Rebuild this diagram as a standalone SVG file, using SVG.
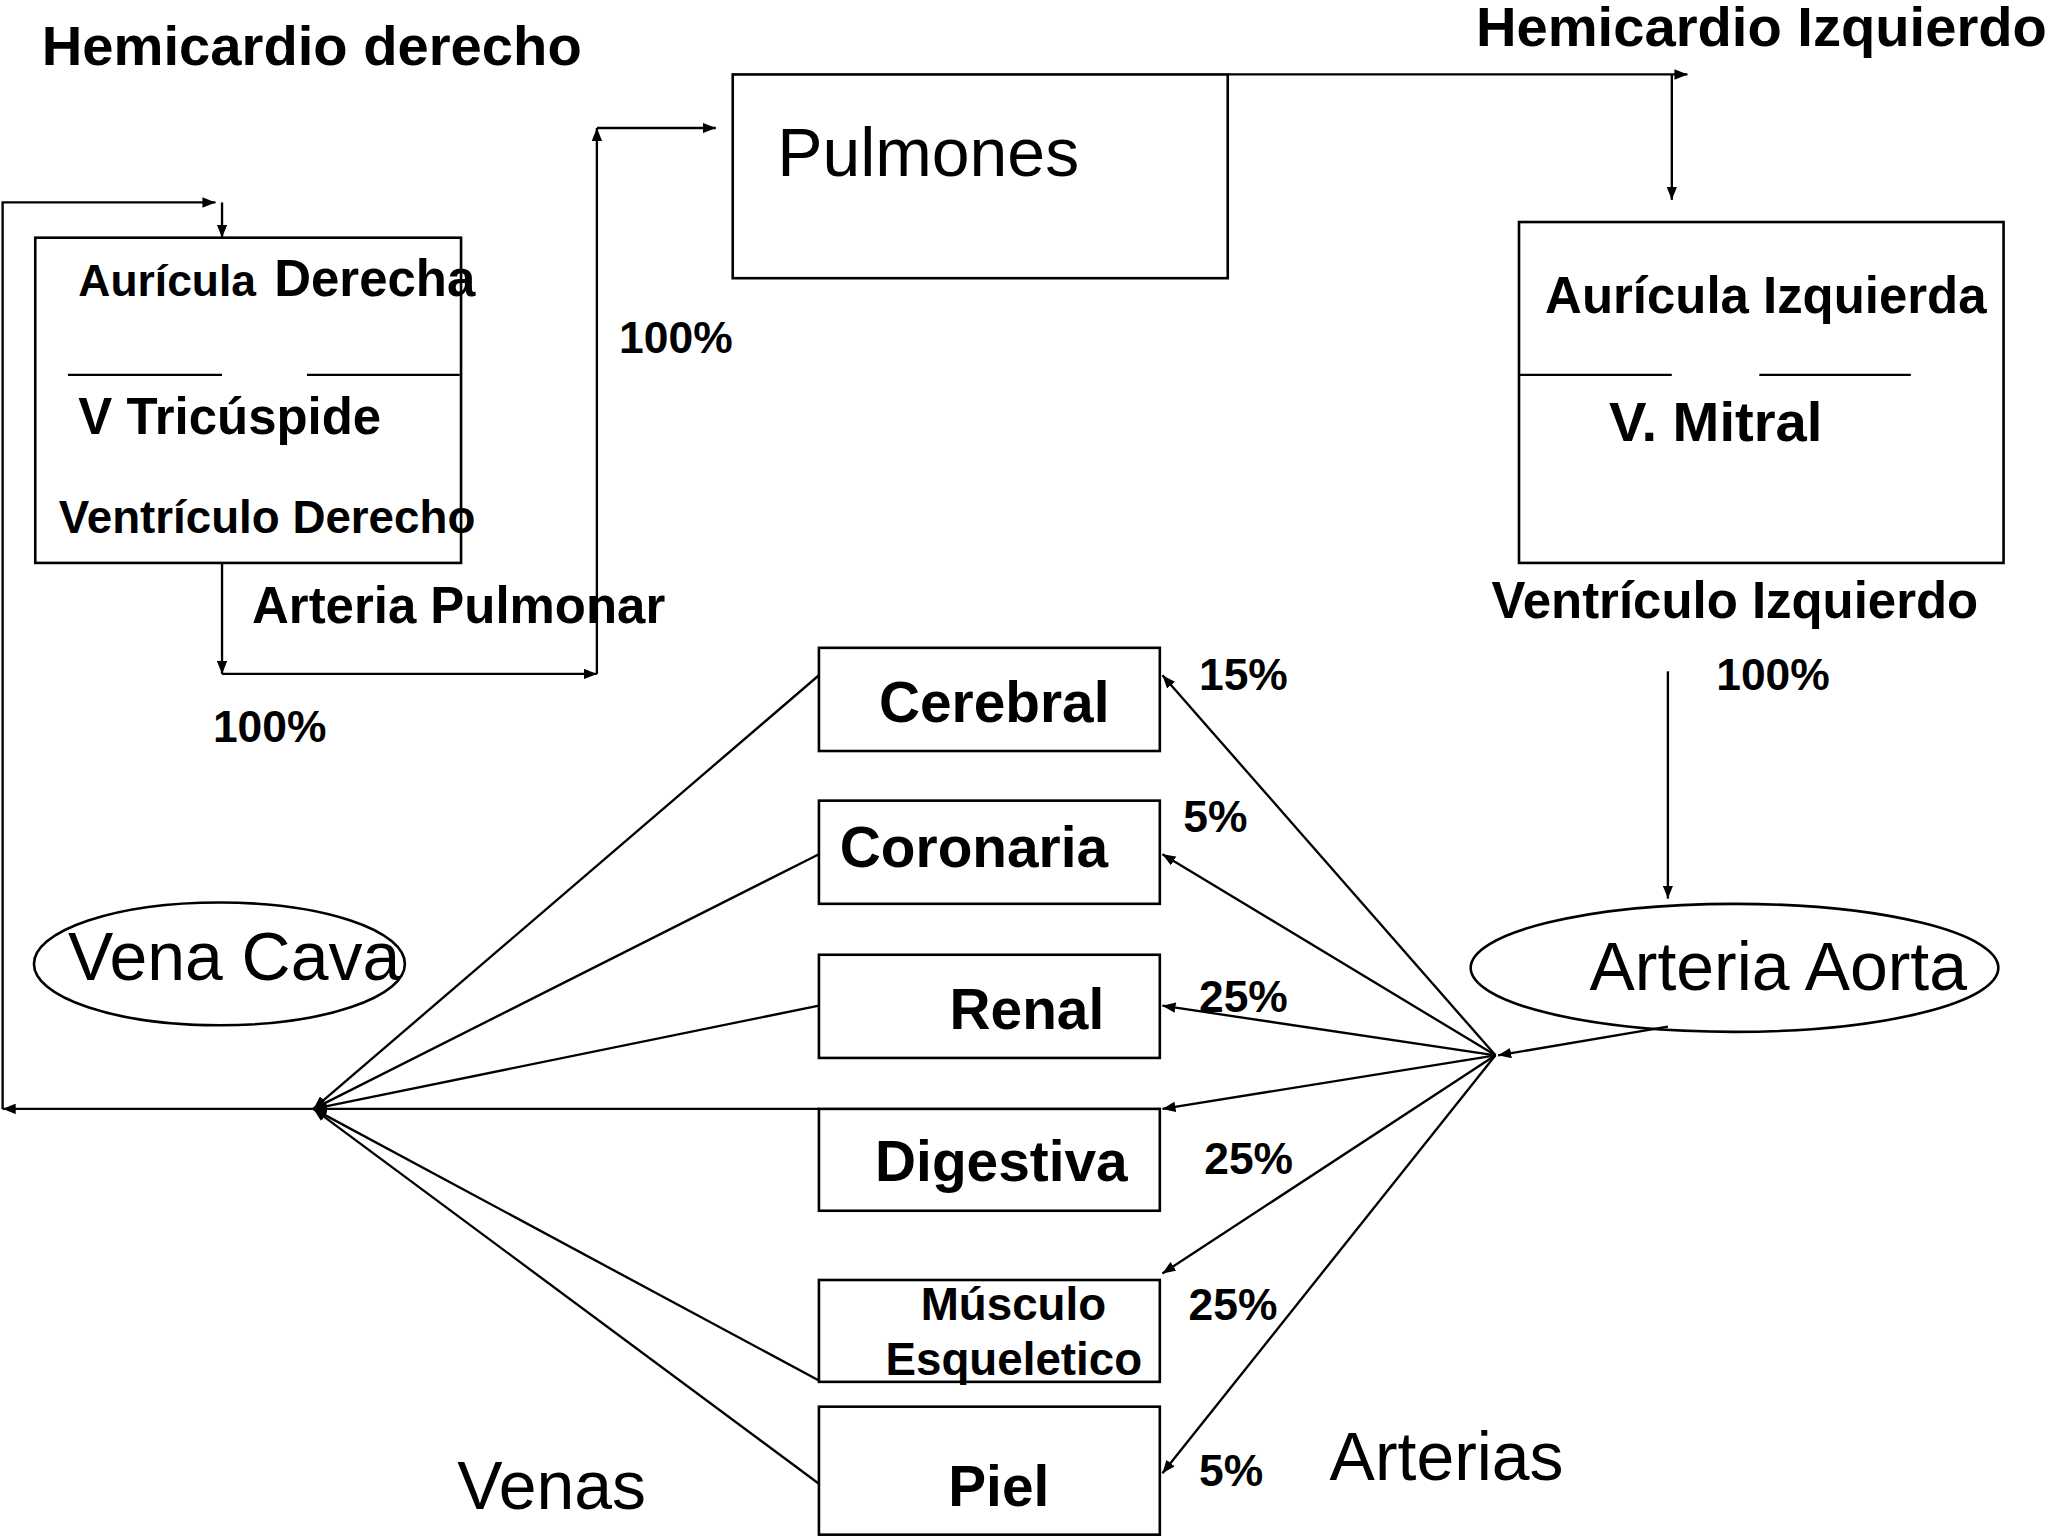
<svg xmlns="http://www.w3.org/2000/svg" width="2048" height="1536" viewBox="0 0 2048 1536">
<defs>
<marker id="ah" markerWidth="10" markerHeight="8" refX="10" refY="4" orient="auto" markerUnits="userSpaceOnUse"><path d="M0,0 L10,4 L0,8 z" fill="#000"/></marker>
<style>
.b{fill:#fff;stroke:#000;stroke-width:2}
.l{fill:none;stroke:#000;stroke-width:1.8}
.a{fill:none;stroke:#000;stroke-width:1.8;marker-end:url(#ah)}
text{font-family:"Liberation Sans",Arial,sans-serif;fill:#000}
.t{font-weight:bold}
</style>
</defs>
<rect width="2048" height="1536" fill="#fff"/>
<g transform="scale(1.3061)">
<g id="labels">
<text class="t" x="32" y="50" font-size="43">Hemicardio derecho</text>
<text class="t" x="1130" y="35" font-size="43">Hemicardio Izquierdo</text>
<text class="t" x="193" y="477" font-size="39">Arteria Pulmonar</text>
<text class="t" x="163" y="568" font-size="34">100%</text>
<text class="t" x="474" y="270" font-size="34">100%</text>
<text class="t" x="1142" y="473" font-size="39">Ventrículo Izquierdo</text>
<text class="t" x="1314" y="528" font-size="34">100%</text>
<text class="t" x="918" y="528" font-size="34">15%</text>
<text class="t" x="906" y="637" font-size="34">5%</text>
<text class="t" x="918" y="775" font-size="34">25%</text>
<text class="t" x="922" y="899" font-size="34">25%</text>
<text class="t" x="910" y="1011" font-size="34">25%</text>
<text class="t" x="918" y="1138" font-size="34">5%</text>
<text x="350" y="1155" font-size="52">Venas</text>
<text x="1018" y="1133" font-size="52">Arterias</text>
</g>
<g id="hemicardio-derecho">
<rect class="b" x="27" y="182" width="326" height="249"/>
<line class="l" x1="52" y1="287" x2="170" y2="287"/><line class="l" x1="235" y1="287" x2="352" y2="287"/>
<text class="t" x="60" y="227" font-size="34">Aurícula</text>
<text class="t" x="210" y="227" font-size="39">Derecha</text>
<text class="t" x="60" y="332" font-size="39">V Tricúspide</text>
<text class="t" x="45" y="408" font-size="35">Ventrículo Derecho</text>
</g>
<g id="pulmones">
<rect class="b" x="561" y="57" width="379" height="156"/>
<text x="595" y="135" font-size="52">Pulmones</text>
</g>
<g id="hemicardio-izquierdo">
<rect class="b" x="1163" y="170" width="371" height="261"/>
<line class="l" x1="1163" y1="287" x2="1280" y2="287"/><line class="l" x1="1347" y1="287" x2="1463" y2="287"/>
<text class="t" x="1183" y="240" font-size="39">Aurícula Izquierda</text>
<text class="t" x="1232" y="338" font-size="43">V. Mitral</text>
</g>
<g id="aorta"><ellipse class="b" cx="1328" cy="741" rx="202" ry="49"/><text x="1217" y="758" font-size="52">Arteria Aorta</text></g>
<g id="vena-cava"><ellipse class="b" cx="168" cy="738" rx="142" ry="47"/><text x="52" y="750" font-size="52">Vena Cava</text></g>
<g id="cerebral"><rect class="b" x="627" y="496" width="261" height="79"/><text class="t" x="673" y="553" font-size="43.5">Cerebral</text></g>
<g id="coronaria"><rect class="b" x="627" y="613" width="261" height="79"/><text class="t" x="643" y="664" font-size="43.5">Coronaria</text></g>
<g id="renal"><rect class="b" x="627" y="731" width="261" height="79"/><text class="t" x="727" y="788" font-size="43.5">Renal</text></g>
<g id="digestiva"><rect class="b" x="627" y="849" width="261" height="78"/><text class="t" x="670" y="904" font-size="43.5">Digestiva</text></g>
<g id="musculo"><rect class="b" x="627" y="980" width="261" height="78"/><text class="t" x="705" y="1011" font-size="35">Músculo</text><text class="t" x="678" y="1053" font-size="35">Esqueletico</text></g>
<g id="piel"><rect class="b" x="627" y="1077" width="261" height="98"/><text class="t" x="726" y="1153" font-size="43.5">Piel</text></g>
<g id="connectors">
<polyline class="a" points="2,849 2,155 165,155"/>
<line class="a" x1="170" y1="155" x2="170" y2="182"/>
<polyline class="a" points="170,431 170,516"/>
<polyline class="a" points="170,516 457,516"/>
<polyline class="a" points="457,516 457,98"/>
<polyline class="a" points="457,98 548,98"/>
<polyline class="a" points="940,57 1292,57"/>
<line class="a" x1="1280" y1="57" x2="1280" y2="153"/>
<line class="a" x1="1277" y1="514" x2="1277" y2="688"/>
<line class="a" x1="1277" y1="786" x2="1147" y2="808"/>
<line class="a" x1="1145" y1="808" x2="890" y2="517"/>
<line class="a" x1="1145" y1="808" x2="890" y2="654"/>
<line class="a" x1="1145" y1="808" x2="890" y2="770"/>
<line class="a" x1="1145" y1="808" x2="890" y2="849"/>
<line class="a" x1="1145" y1="808" x2="890" y2="975"/>
<line class="a" x1="1145" y1="808" x2="890" y2="1128"/>
<line class="a" x1="627" y1="517" x2="240" y2="849"/>
<line class="a" x1="627" y1="654" x2="240" y2="849"/>
<line class="a" x1="627" y1="770" x2="240" y2="849"/>
<line class="a" x1="627" y1="849" x2="240" y2="849"/>
<line class="a" x1="627" y1="1057" x2="240" y2="849"/>
<line class="a" x1="627" y1="1136" x2="240" y2="849"/>
<line class="a" x1="240" y1="849" x2="2" y2="849"/>
</g>
</g>
</svg>
